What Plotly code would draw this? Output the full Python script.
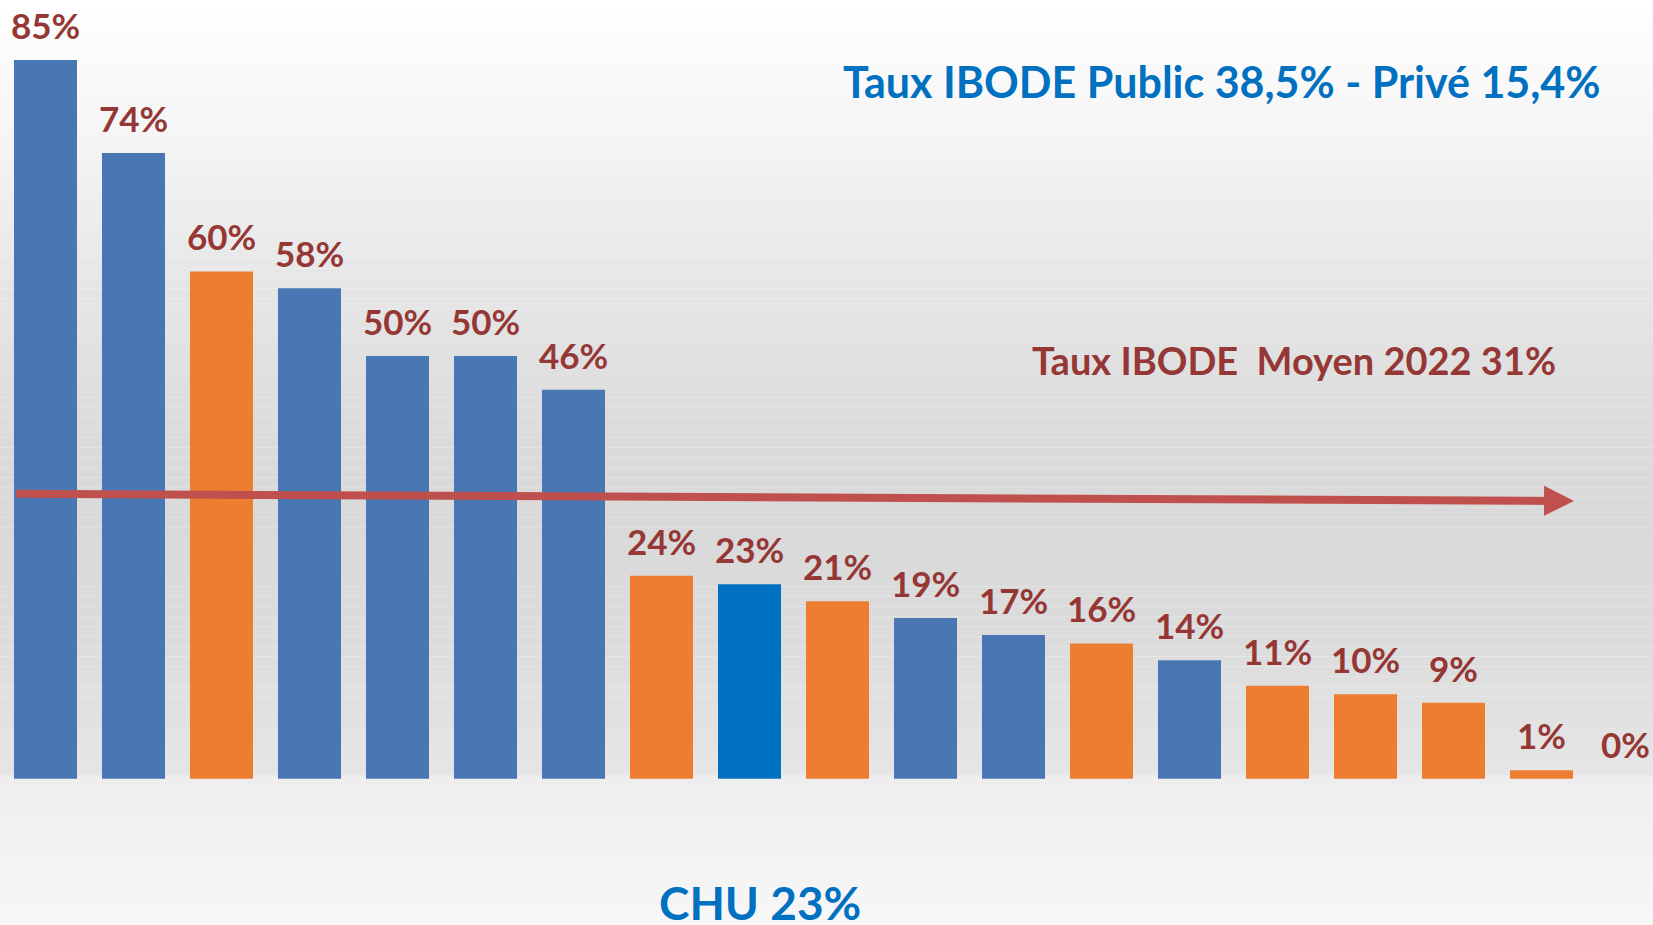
import plotly.graph_objects as go

# taux IBODE par établissement (%)
etablissements = [f"E{i}" for i in range(1, 20)]
taux = [85, 74, 60, 58, 50, 50, 46, 24, 23, 21, 19, 17, 16, 14, 11, 10, 9, 1, 0]
secteur = ["pub", "pub", "priv", "pub", "pub", "pub", "pub", "priv", "chu",
           "priv", "pub", "pub", "priv", "pub", "priv", "priv", "priv", "priv", "priv"]
labels = [f"{v}%" for v in taux]

moyenne = 31
fleche_y = (33.7, 32.85)   # la flèche tracée à la main dans l'original

couleurs = {"pub": "#4877b3", "priv": "#ed7d31", "chu": "#0070c0"}
rouge = "#953735"
bleu_txt = "#0070c0"

fig = go.Figure()

fig.add_trace(go.Bar(
    x=list(range(len(taux))), y=taux,
    marker=dict(color=[couleurs[s] for s in secteur], line_width=0),
    hoverinfo="skip",
))

# étiquettes au-dessus des barres
for i, (v, lab) in enumerate(zip(taux, labels)):
    fig.add_annotation(x=i, y=v, text=lab, showarrow=False, yanchor="bottom", yshift=12,
                       xanchor="center", xshift=-4 if i == len(taux) - 1 else 0,
                       font=dict(family="Lato", size=35, color=rouge, weight="bold"))

# fond dégradé (blanc -> gris -> blanc)
stops = [(0, 255), (120, 246), (260, 232), (420, 220), (520, 217), (640, 220),
         (778, 230), (779, 238), (925, 247)]
n = 93
for k in range(n):
    y0 = k * 925 / n
    y1 = (k + 1) * 925 / n
    ym = (y0 + y1) / 2
    for (a, ca), (b, cb) in zip(stops[:-1], stops[1:]):
        if a <= ym <= b:
            c = ca + (cb - ca) * (ym - a) / (b - a)
            break
    c = int(round(c))
    fig.add_shape(type="rect", xref="paper", yref="paper", x0=0, x1=1,
                  y0=1 - y1 / 925, y1=1 - y0 / 925, layer="below",
                  fillcolor=f"rgb({c},{c},{c})", line_width=0)

# flèche de la moyenne
fig.add_annotation(x=17.37, y=fleche_y[1], ax=-0.35, ay=fleche_y[0], axref="x", ayref="y",
                   xref="x", yref="y", text="", showarrow=True, arrowhead=2, arrowsize=0.75,
                   arrowwidth=8, arrowcolor="#c0504d")

fig.add_annotation(xref="paper", yref="paper", x=0.739, y=1 - 82 / 925,
                   xanchor="center", yanchor="middle",
                   text="Taux IBODE Public 38,5% - Privé 15,4%", showarrow=False,
                   font=dict(family="Lato", size=43, color=bleu_txt, weight="bold"))
fig.add_annotation(xref="paper", yref="paper", x=0.783, y=1 - 360 / 925,
                   xanchor="center", yanchor="middle",
                   text=f"Taux IBODE \u00a0Moyen 2022 {moyenne}%", showarrow=False,
                   font=dict(family="Lato", size=38, color=rouge, weight="bold"))
fig.add_annotation(xref="paper", yref="paper", x=0.46, y=1 - 902 / 925,
                   xanchor="center", yanchor="middle",
                   text="CHU 23%", showarrow=False,
                   font=dict(family="Lato", size=46, color=bleu_txt, weight="bold"))

fig.update_layout(
    width=1653, height=925,
    margin=dict(l=0, r=0, t=0, b=0, pad=0, autoexpand=False),
    paper_bgcolor="white", plot_bgcolor="rgba(0,0,0,0)",
    bargap=0.284, showlegend=False,
    xaxis=dict(range=[-0.517, 18.267], visible=False),
    yaxis=dict(range=[-17.3, 92.1], visible=False),
)

fig.write_html("out.html", config={"displayModeBar": False},
               post_script="document.body.style.margin='0';")
